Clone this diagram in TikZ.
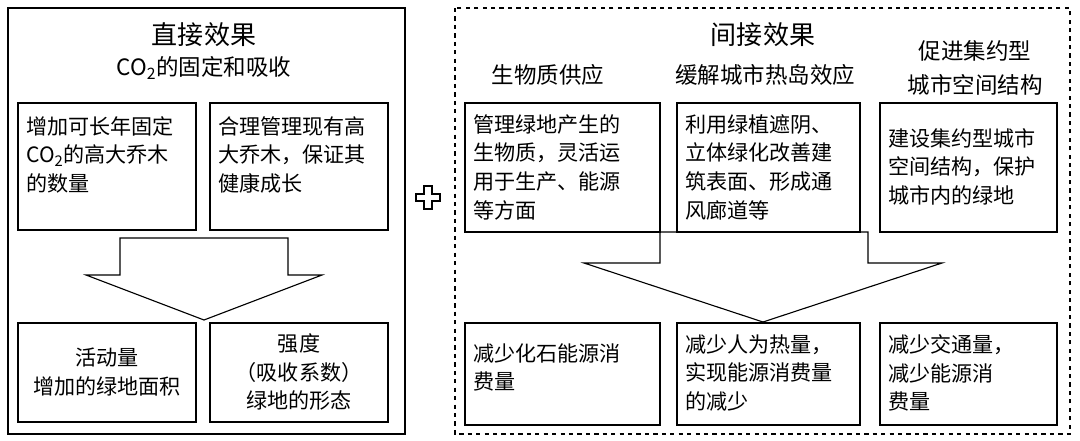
\documentclass[tikz,border=0pt]{standalone}
\usepackage{fontspec}
\setmainfont{Liberation Serif}
\newfontfamily\cjk{Noto Sans CJK SC}
\begin{document}
\begin{tikzpicture}[x=0.025cm,y=-0.025cm,
	box/.style={draw, thick, anchor=north west, align=left, inner sep=0pt},
	txt/.style={font=\cjk\fontsize{15}{20.5}\selectfont, align=left, anchor=north west, inner sep=0pt},
	head/.style={font=\cjk\fontsize{16}{24}\selectfont, align=center},
	title/.style={font=\cjk\fontsize{18.5}{24}\selectfont, align=center}]
	\useasboundingbox (0,0) rectangle (1080,441);
	% frames
	\draw[thick] (8,8) rectangle (405,434);
	\draw[thick, dashed] (455,8) rectangle (1070,434);
	% left part
	\node[title] (dt) at (204,35) {直接效果};
	\node[head] (ds) at (204,68) {CO\textsubscript{2}\cjk 的固定和吸收};
	\draw[thick] (18,103) rectangle (196,230);
	\draw[thick] (210,103) rectangle (388,230);
	\node[txt] (d1) at (26,116) {增加可长年固定\\CO\textsubscript{2}\cjk 的高大乔木\\的数量};
	\node[txt] (d2) at (218,116) {合理管理现有高\\大乔木，保证其\\健康成长};
	\draw[thick] (120,238) -- (288,238) -- (288,275) -- (322,275) -- (204,320)
		-- (86,275) -- (120,275) -- cycle;
	\draw[thick] (18,323) rectangle (196,422);
	\draw[thick] (210,323) rectangle (388,422);
	\node[head, font=\cjk\fontsize{15}{20.5}\selectfont] (d3) at (107,372) {活动量\\增加的绿地面积};
	\node[head, font=\cjk\fontsize{15}{20.5}\selectfont] (d4) at (299,372) {强度\\（吸收系数）\\绿地的形态};
	% plus
	\draw[thick] (424,186) -- (432,186) -- (432,194) -- (440,194) -- (440,201) -- (432,201)
		-- (432,209) -- (424,209) -- (424,201) -- (416,201) -- (416,194) -- (424,194) -- cycle;
	% right part
	\node[title] (it) at (763,35) {间接效果};
	\node[head] (c1) at (548,75) {生物质供应};
	\node[head] (c2) at (765,75) {缓解城市热岛效应};
	\node[head] (c3) at (975,68) {促进集约型\\城市空间结构};
	\draw[thick] (465,103) rectangle (660,232);
	\draw[thick] (677,103) rectangle (860,232);
	\draw[thick] (880,103) rectangle (1057,232);
	\node[txt] (i1) at (473,114) {管理绿地产生的\\生物质，灵活运\\用于生产、能源\\等方面};
	\node[txt] (i2) at (685,114) {利用绿植遮阴、\\立体绿化改善建\\筑表面、形成通\\风廊道等};
	\node[txt] (i3) at (888,128) {建设集约型城市\\空间结构，保护\\城市内的绿地};
	\draw[thick] (660,232) -- (868,232) -- (868,263) -- (942,263) -- (763,322)
		-- (584,263) -- (660,263) -- cycle;
	\draw[thick] (465,323) rectangle (660,425);
	\draw[thick] (677,323) rectangle (860,425);
	\draw[thick] (880,323) rectangle (1057,425);
	\node[txt] (i4) at (473,343) {减少化石能源消\\费量};
	\node[txt] (i5) at (685,334) {减少人为热量，\\实现能源消费量\\的减少};
	\node[txt] (i6) at (888,334) {减少交通量，\\减少能源消\\费量};
\end{tikzpicture}
\end{document}
